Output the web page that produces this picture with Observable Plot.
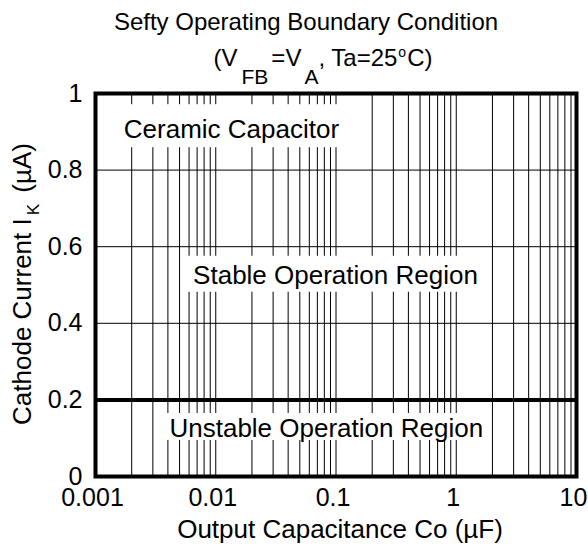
<!DOCTYPE html>
<html><head><meta charset="utf-8">
<script src="https://cdn.jsdelivr.net/npm/d3@7"></script>
<script src="https://cdn.jsdelivr.net/npm/@observablehq/plot@0.6"></script>
<style>body{margin:0;background:#fff}</style>
</head><body><div id="chart"></div>
<script>
// ---- data ----
const title = "Sefty Operating Boundary Condition";
const subtitleParts = [
  {t: "(V"}, {t: "FB", sub: true}, {t: "=V"}, {t: "A", sub: true},
  {t: ", Ta=25"}, {t: "o", sup: true}, {t: "C)"}
];
const xLabel = "Output Capacitance Co (\u00b5F)";
const yLabelParts = [{t: "Cathode Current I"}, {t: "K", sub: true}, {t: " (\u00b5A)"}];
const xTicks = [0.001, 0.01, 0.1, 1, 10];
const xTickLabels = ["0.001", "0.01", "0.1", "1", "10"];
const yTicks = [0, 0.2, 0.4, 0.6, 0.8, 1];
const yTickLabels = ["0", "0.2", "0.4", "0.6", "0.8", "1"];
const xGrid = [
  0.002, 0.003, 0.004, 0.005, 0.006, 0.007, 0.008, 0.009, 0.01,
  0.02, 0.03, 0.04, 0.05, 0.06, 0.07, 0.08, 0.09, 0.1,
  0.2, 0.3, 0.4, 0.5, 0.6, 0.7, 0.8, 0.9, 1,
  2, 3, 4, 5, 6, 7, 8, 9
];
const yGrid = [0.2, 0.4, 0.6, 0.8];
const boundary = [0.2];
const regionNames = ["Ceramic Capacitor", "Stable Operation Region", "Unstable Operation Region"];
const regionX = [0.0135, 0.099, 0.083];
const regionY = [0.905, 0.525, 0.125];

// ---- styling (not data) ----
const FONT = "'Liberation Sans', Arial, sans-serif";
const subtitleGaps = [0, 4, 3, 3, 0, 1, 1];
const yLabelGaps = [0, 3, 4];
const boxPad = [ // [padX, padTop, padBottom] per region label
  [10, 10, 3], [6, 4, 2], [8, 0, -3]
];

const regions = regionNames.map((name, i) => ({name, x: regionX[i], y: regionY[i]}));
const xLab = new Map(xTicks.map((d, i) => [d, xTickLabels[i]]));
const yLab = new Map(yTicks.map((d, i) => [d, yTickLabels[i]]));
const subtitleText = subtitleParts.map(p => p.t).join("");
const yLabelText = yLabelParts.map(p => p.t).join("");

const chart = Plot.plot({
  width: 588,
  height: 546,
  marginLeft: 95,
  marginRight: 12,
  marginTop: 93,
  marginBottom: 70,
  style: {fontFamily: FONT, fontSize: "25px", background: "white", color: "black", overflow: "visible"},
  x: {type: "log", domain: [0.001, 10]},
  y: {domain: [0, 1]},
  marks: [
    Plot.ruleX(xGrid, {stroke: "black", strokeWidth: 1}),
    Plot.ruleY(yGrid, {stroke: "black", strokeWidth: 1}),
    Plot.ruleY(boundary, {stroke: "black", strokeWidth: 4}),
    Plot.frame({stroke: "black", strokeWidth: 4}),
    Plot.text(regions, {x: "x", y: "y", text: "name", fontSize: 26, fill: "black", className: "region-label"}),
    Plot.axisX(xTicks, {tickSize: 0, tickPadding: 12, dx: -3, fontSize: 25, tickFormat: d => xLab.get(d), label: null}),
    Plot.axisY(yTicks, {tickSize: 0, tickPadding: 13, fontSize: 25, tickFormat: d => yLab.get(d), label: null}),
    Plot.text([title], {frameAnchor: "top", lineAnchor: "middle", textAnchor: "middle", dx: -30, dy: -71, fontSize: 24, fill: "black"}),
    Plot.text([subtitleText], {frameAnchor: "top", lineAnchor: "middle", textAnchor: "middle", dx: -13, dy: -35, fontSize: 24, fill: "black"}),
    Plot.text([xLabel], {frameAnchor: "bottom", lineAnchor: "middle", textAnchor: "middle", dx: 4, dy: 53, fontSize: 26, fill: "black"}),
    Plot.text([yLabelText], {frameAnchor: "left", lineAnchor: "middle", textAnchor: "middle", dx: -73, dy: -1, rotate: -90, fontSize: 26, fill: "black"})
  ]
});
document.getElementById("chart").appendChild(chart);

// ---- rich text (sub/superscripts) ----
function rich(text, parts, gaps, o) {
  const sel = d3.select(text);
  sel.text(null);
  let shift = 0;
  parts.forEach((p, i) => {
    const ts = sel.append("tspan").text(p.t);
    let target = 0;
    if (p.sub) { target = o.subShift; ts.attr("font-size", o.subSize); }
    if (p.sup) { target = -o.supShift; ts.attr("font-size", o.supSize); }
    const dy = target - shift;
    if (dy !== 0) ts.attr("dy", dy);
    if (gaps[i]) ts.attr("dx", gaps[i]);
    shift = target;
  });
}
d3.select(chart).selectAll("text").each(function () {
  if (this.textContent === subtitleText) rich(this, subtitleParts, subtitleGaps, {subShift: 18, subSize: 21, supShift: 9, supSize: 14});
  if (this.textContent === yLabelText) rich(this, yLabelParts, yLabelGaps, {subShift: 8, subSize: 17, supShift: 8, supSize: 14});
});

// ---- white boxes behind region labels ----
d3.select(chart).selectAll("g.region-label text").each(function (d, i) {
  const b = this.getBBox();
  const [padX, padTop, padBottom] = boxPad[i] || [6, 2, 0];
  const r = document.createElementNS("http://www.w3.org/2000/svg", "rect");
  r.setAttribute("x", b.x - padX);
  r.setAttribute("y", b.y - padTop);
  r.setAttribute("width", b.width + 2 * padX);
  r.setAttribute("height", b.height + padTop + padBottom);
  r.setAttribute("fill", "white");
  const tr = this.getAttribute("transform");
  if (tr) r.setAttribute("transform", tr);
  this.parentNode.insertBefore(r, this);
});
</script>
</body></html>
